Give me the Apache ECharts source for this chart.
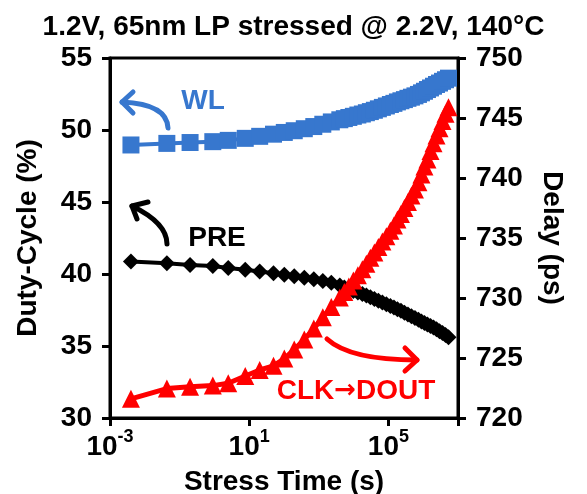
<!DOCTYPE html>
<html>
<head>
<meta charset="utf-8">
<script src="https://cdn.jsdelivr.net/npm/echarts@6/dist/echarts.min.js"></script>
<style>html,body{margin:0;padding:0;background:#fff}#c{width:587px;height:494px}</style>
</head>
<body>
<div id="c"></div>
<script>
// Stress time (s)
var times = [0.004, 0.043, 0.2, 0.9, 2.5, 7.7, 20, 50,
  102, 197, 383, 718, 1303, 2290,
  4020, 5420, 7300, 9840, 13250, 17860, 23300, 30300, 39500, 51500, 67100,
  87500, 114000, 144000, 181500, 229000, 288600, 364000, 459000, 579000, 730000,
  891000, 1087000, 1326000, 1618000, 1974000, 2407000, 2937000, 3583000, 4370000, 5330000];
// Duty-cycle (%) of WL
var wl = [48.96, 49.07, 49.13, 49.19, 49.28, 49.42, 49.56, 49.71,
  49.83, 49.95, 50.09, 50.24, 50.4, 50.56,
  50.71, 50.79, 50.87, 50.95, 51.04, 51.11, 51.2, 51.28, 51.37, 51.47, 51.57,
  51.67, 51.77, 51.85, 51.95, 52.03, 52.11, 52.2, 52.28, 52.37, 52.47,
  52.58, 52.69, 52.81, 52.92, 53.04, 53.16, 53.26, 53.38, 53.49, 53.6];
// Duty-cycle (%) of PRE
var pre = [40.86, 40.74, 40.63, 40.56, 40.42, 40.29, 40.17, 40.05,
  39.94, 39.84, 39.74, 39.64, 39.52, 39.39,
  39.21, 39.06, 38.92, 38.82, 38.72, 38.61, 38.51, 38.39, 38.27, 38.14, 38.02,
  37.9, 37.78, 37.67, 37.56, 37.44, 37.31, 37.19, 37.07, 36.95, 36.82,
  36.71, 36.6, 36.5, 36.39, 36.28, 36.16, 36.03, 35.9, 35.76, 35.6];
// CLK->DOUT delay (ps)
var clk = [721.6, 722.45, 722.6, 722.7, 722.9, 723.5, 724.0, 724.35,
  724.95, 725.7, 726.55, 727.45, 728.4, 729.25,
  730.05, 730.5, 730.95, 731.45, 731.9, 732.4, 732.85, 733.35, 733.8, 734.25, 734.7,
  735.15, 735.6, 736.05, 736.55, 737.0, 737.5, 738.0, 738.55, 739.05, 739.65,
  740.3, 740.95, 741.55, 742.25, 742.9, 743.55, 744.15, 744.75, 745.35, 745.9];
var titleText = '1.2V, 65nm LP stressed @ 2.2V, 140°C';
var xName = 'Stress Time (s)';
var yLeftName = 'Duty-Cycle (%)';
var yRightName = 'Delay (ps)';
var labelWL = 'WL', labelPRE = 'PRE', labelCLK1 = 'CLK', labelArrow = '→', labelCLK2 = 'DOUT';

function pairs(xs, ys) { return xs.map(function (x, i) { return [x, ys[i]]; }); }

var FONT = '"Liberation Sans", Arial, sans-serif';
var BLUE = '#3777CE', RED = '#FF0000', BLACK = '#000000';
var chart = echarts.init(document.getElementById('c'), null, {renderer: 'canvas'});
var axisFont = {fontFamily: FONT, fontWeight: 'bold', fontSize: 28, color: '#000'};

chart.setOption({
  animation: false,
  title: {
    text: titleText, left: 'center', top: 8,
    textStyle: {fontFamily: FONT, fontWeight: 'bold', fontSize: 28, color: '#000'}
  },
  grid: {left: 110, right: 129, top: 58, bottom: 76, show: true, borderColor: '#000', borderWidth: 3,
    containLabel: false, outerBoundsMode: 'none'},
  xAxis: {
    type: 'log', logBase: 10, min: 0.001, max: 1e7, interval: 4,
    name: xName, nameLocation: 'middle', nameGap: 50,
    nameTextStyle: axisFont,
    axisLine: {show: true, lineStyle: {color: '#000', width: 3}},
    axisTick: {show: true, inside: false, length: 8, lineStyle: {color: '#000', width: 3}},
    splitLine: {show: false}, minorTick: {show: false},
    axisLabel: {
      margin: 10,
      formatter: function (v) {
        var e = Math.round(Math.log(v) / Math.LN10);
        if (e >= 7) return '';
        return '{b|10}{s|' + e + '}';
      },
      rich: {
        b: {fontFamily: FONT, fontWeight: 'bold', fontSize: 28, lineHeight: 38, color: '#000'},
        s: {fontFamily: FONT, fontWeight: 'bold', fontSize: 18, lineHeight: 18, verticalAlign: 'top', color: '#000'}
      }
    }
  },
  yAxis: [{
    type: 'value', min: 30, max: 55, interval: 5, position: 'left',
    name: yLeftName, nameLocation: 'middle', nameGap: 68, nameTextStyle: axisFont,
    axisLine: {show: true, lineStyle: {color: '#000', width: 3}},
    axisTick: {show: true, inside: false, length: 8, lineStyle: {color: '#000', width: 3}},
    splitLine: {show: false},
    axisLabel: Object.assign({margin: 18}, axisFont)
  }, {
    type: 'value', min: 720, max: 750, interval: 5, position: 'right',
    name: yRightName, nameLocation: 'middle', nameGap: 80, nameRotate: -90, nameTextStyle: axisFont,
    axisLine: {show: true, lineStyle: {color: '#000', width: 3}},
    axisTick: {show: true, inside: false, length: 8, lineStyle: {color: '#000', width: 3}},
    splitLine: {show: false},
    axisLabel: Object.assign({margin: 18}, axisFont)
  }],
  series: [{
    name: labelWL, type: 'line', yAxisIndex: 0, data: pairs(times, wl),
    symbol: 'rect', symbolSize: 17, showAllSymbol: true,
    lineStyle: {color: BLUE, width: 4}, itemStyle: {color: BLUE}, z: 3
  }, {
    name: labelPRE, type: 'line', yAxisIndex: 0, data: pairs(times, pre),
    symbol: 'diamond', symbolSize: 16, showAllSymbol: true,
    lineStyle: {color: BLACK, width: 4}, itemStyle: {color: BLACK}, z: 3
  }, {
    name: 'CLK→DOUT', type: 'line', yAxisIndex: 1, data: pairs(times, clk),
    symbol: 'triangle', symbolSize: 18, showAllSymbol: true,
    lineStyle: {color: RED, width: 5}, itemStyle: {color: RED}, z: 4
  }],
  graphic: [
    {type: 'text', x: 203, y: 101, style: {text: labelWL, fill: BLUE, font: 'bold 28px ' + FONT, align: 'center', verticalAlign: 'middle'}},
    {type: 'bezierCurve', shape: {x1: 168, y1: 128, x2: 122, y2: 102, cpx1: 167, cpy1: 104}, style: {stroke: BLUE, lineWidth: 5, fill: null, lineCap: 'round'}},
    {type: 'polyline', shape: {points: [[133, 92], [122, 102], [133, 113]]}, style: {stroke: BLUE, lineWidth: 5, fill: null, lineCap: 'round', lineJoin: 'round'}},

    {type: 'text', x: 217, y: 238, style: {text: labelPRE, fill: BLACK, font: 'bold 28px ' + FONT, align: 'center', verticalAlign: 'middle'}},
    {type: 'bezierCurve', shape: {x1: 167, y1: 244, x2: 132, y2: 206, cpx1: 167, cpy1: 223}, style: {stroke: BLACK, lineWidth: 5, fill: null, lineCap: 'round'}},
    {type: 'polyline', shape: {points: [[148, 202], [132, 206], [137, 219]]}, style: {stroke: BLACK, lineWidth: 5, fill: null, lineCap: 'round', lineJoin: 'round'}},

    {type: 'text', x: 356, y: 391, style: {
      text: '{t|' + labelCLK1 + '}{a|' + labelArrow + '}{t|' + labelCLK2 + '}',
      align: 'center', verticalAlign: 'middle',
      rich: {
        t: {fill: RED, fontFamily: FONT, fontWeight: 'bold', fontSize: 28},
        a: {fill: RED, fontFamily: '"DejaVu Sans"', fontWeight: 'bold', fontSize: 26}
      }
    }},
    {type: 'bezierCurve', shape: {x1: 327, y1: 339, x2: 417, y2: 360, cpx1: 350, cpy1: 360}, style: {stroke: RED, lineWidth: 5, fill: null, lineCap: 'round'}},
    {type: 'polyline', shape: {points: [[405, 348], [417, 360], [405, 371]]}, style: {stroke: RED, lineWidth: 5, fill: null, lineCap: 'round', lineJoin: 'round'}}
  ]
});
</script>
</body>
</html>
